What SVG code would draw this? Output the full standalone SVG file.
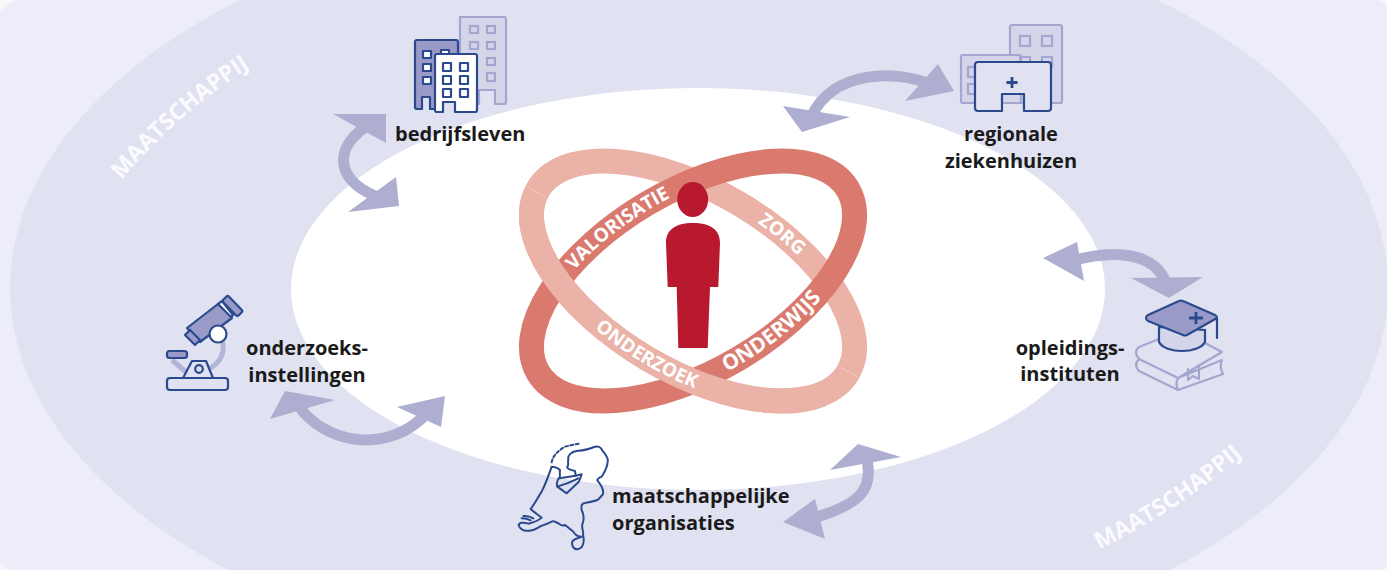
<svg xmlns="http://www.w3.org/2000/svg" width="1387" height="570" viewBox="0 0 1387 570">
<style>
.lbl{font-family:"Open Sans","Noto Sans","Liberation Sans",sans-serif;font-weight:700;font-size:20px;fill:#1a1a1a}
.ring{font-family:"Open Sans","Noto Sans","Liberation Sans",sans-serif;font-weight:700;font-size:19px;fill:#fff}
.soc{font-family:"Open Sans","Noto Sans","Liberation Sans",sans-serif;font-weight:700;font-size:23px;fill:#fbfbff}
.arr{fill:none;stroke:#aeaed0;stroke-width:11}
.head{fill:#aeaed0}
.back{fill:#d5d5ea;stroke:#a3a6cf;stroke-width:2.2;stroke-linejoin:round}
.winb{fill:none;stroke:#a3a6cf;stroke-width:2.2}
.dk{fill:#9a9ac8;stroke:#2b4a8d;stroke-width:2.2;stroke-linejoin:round}
.wh{fill:#fff;stroke:#2b4a8d;stroke-width:2.2;stroke-linejoin:round}
.no{fill:#e0e1f1;stroke:#2b4a8d;stroke-width:2.2;stroke-linejoin:round}
.li{fill:none;stroke:#2b4a8d;stroke-width:2.2;stroke-linejoin:round;stroke-linecap:round}
.lb{fill:none;stroke:#a3a6cf;stroke-width:2.2;stroke-linejoin:round;stroke-linecap:round}
</style>
<defs>
<clipPath id="front"><polygon points="560,140 840,420 500,420 500,140"/></clipPath>
<path id="pVal" d="M-174 0A174 84 0 0 1 174 0"/>
<path id="pZorg" d="M-174 0A174 84 0 0 1 174 0"/>
<path id="pOz" d="M-186 0A186 96 0 0 0 186 0"/>
<path id="pOw" d="M-186 0A186 96 0 0 0 186 0"/>
<path id="pS1" d="M120 182Q175 115 252 66"/>
<path id="pS2" d="M1100 549Q1180 510 1247 451"/>
</defs>
<g id="background">
<rect width="1387" height="570" fill="#edecf9"/>
<path d="M0 0H16Q7 5 0 11ZM0 563Q4 567 9 570H0ZM1387 0V5Q1383 2 1379 0ZM1387 566V570H1381Z" fill="#f8f8fb"/>
<ellipse cx="699" cy="288" rx="689" ry="386" fill="#e0e1f1"/>
<ellipse cx="698" cy="289" rx="407" ry="201" fill="#fff"/>
<text class="soc"><textPath href="#pS1" startOffset="50%" text-anchor="middle">MAATSCHAPPIJ</textPath></text>
<text class="soc"><textPath href="#pS2" startOffset="48%" text-anchor="middle">MAATSCHAPPIJ</textPath></text>
</g>
<g id="rings">
<ellipse cx="693" cy="281" rx="180" ry="90" transform="rotate(30.6 693 281)" fill="none" stroke="#ebb3a7" stroke-width="25"/>
<ellipse cx="693" cy="281" rx="180" ry="90" transform="rotate(-30.6 693 281)" fill="none" stroke="#da7a6f" stroke-width="25"/>
<g clip-path="url(#front)"><ellipse cx="693" cy="281" rx="180" ry="90" transform="rotate(30.6 693 281)" fill="none" stroke="#ebb3a7" stroke-width="25"/></g>
<path d="M528 187L545 197M840 367L858 377" stroke="#f7dcd6" stroke-width=".6" fill="none"/>
<g transform="translate(693 281) rotate(-30.6)">
<text class="ring"><textPath href="#pVal" startOffset="41%" text-anchor="middle">VALORISATIE</textPath></text>
<text class="ring" style="font-size:21px"><textPath href="#pOw" startOffset="59.500%" text-anchor="middle">ONDERWIJS</textPath></text>
</g>
<g transform="translate(693 281) rotate(30.6)">
<text class="ring"><textPath href="#pZorg" startOffset="62.5%" text-anchor="middle">ZORG</textPath></text>
<text class="ring"><textPath href="#pOz" startOffset="49.500%" text-anchor="middle">ONDERZOEK</textPath></text>
</g>
</g>
<g id="person" fill="#b9192f">
<ellipse cx="692.7" cy="199.5" rx="15.5" ry="17.5"/>
<path d="M666 243C666 230 675 223 693 223C711 223 720 230 720 243L718.3 287H710L707.7 348H678.3L676.7 287H667.7Z"/>
</g>
<g id="connectors">
<path class="arr" d="M364 128C336 148 334 178 375 196"/>
<polygon class="head" points="333,114 386,114 386,143"/>
<polygon class="head" points="396,177 399,206 348,212"/>
<path class="arr" d="M930 84C895 70 835 70 812 115"/>
<polygon class="head" points="938,64 954,91 905,101"/>
<polygon class="head" points="783,106 850,117 802,132"/>
<path class="arr" d="M1072 261C1110 250 1155 250 1167 285"/>
<polygon class="head" points="1043,258 1077,242 1084,281"/>
<polygon class="head" points="1131,278 1203,277 1169,298"/>
<path class="arr" d="M298 405C325 445 390 455 428 412"/>
<polygon class="head" points="285,391 335,400 270,419"/>
<polygon class="head" points="445,396 441,427 397,407"/>
<path class="arr" d="M866 455C875 490 860 505 810 519"/>
<polygon class="head" points="858,444 901,457 830,470"/>
<polygon class="head" points="815,499 825,539 783,522"/>
</g>
<g id="bedrijfsleven">
<path class="back" d="M460 17H504Q506 17 506 19V102Q506 104 504 104H495V90H479V104H460Z"/>
<g class="winb"><rect x="470" y="26" width="8" height="7"/><rect x="487" y="26" width="8" height="7"/><rect x="470" y="42" width="8" height="7"/><rect x="487" y="42" width="8" height="7"/><rect x="487" y="58" width="8" height="7"/><rect x="487" y="73" width="8" height="8"/></g>
<path class="dk" d="M417 40H456Q458 40 458 42V109H430V97H422V109H417Q415 109 415 107V42Q415 40 417 40Z"/>
<g class="wh"><rect x="423" y="51" width="8" height="7"/><rect x="423" y="64" width="8" height="7"/><rect x="423" y="77" width="8" height="7"/><rect x="441" y="50" width="8" height="6"/></g>
<rect x="442" y="101" width="14" height="12" fill="#e0e1f1"/>
<path class="wh" d="M437 54H475Q477 54 477 56V110Q477 112 475 112H455V102H443V112H437Q435 112 435 110V56Q435 54 437 54Z"/>
<g class="wh"><rect x="443" y="63" width="8" height="8"/><rect x="460" y="63" width="8" height="8"/><rect x="443" y="76" width="8" height="8"/><rect x="460" y="76" width="8" height="8"/><rect x="443" y="89" width="8" height="8"/><rect x="460" y="89" width="8" height="8"/></g>
<text class="lbl" x="395" y="141">bedrijfsleven</text>
</g>
<g id="ziekenhuizen">
<rect class="back" x="1010" y="25" width="52" height="78" rx="2"/>
<rect class="back" x="961" y="55" width="60" height="48" rx="2"/>
<g class="winb"><rect x="1020" y="36" width="10" height="10"/><rect x="1042" y="36" width="10" height="10"/><rect x="1020" y="57" width="10" height="10"/><rect x="1042" y="57" width="10" height="10"/><rect x="968" y="67" width="7" height="10"/><rect x="968" y="84" width="7" height="10"/></g>
<path class="no" d="M978 62H1048Q1051 62 1051 65V108Q1051 111 1048 111H1024V94H1002V111H978Q975 111 975 108V65Q975 62 978 62Z"/>
<path d="M1012 77V88M1006.500 82.500H1017.500" fill="none" stroke="#2b4a8d" stroke-width="2.8"/>
<text class="lbl" x="1011" y="141" text-anchor="middle">regionale</text>
<text class="lbl" x="1011" y="168" text-anchor="middle">ziekenhuizen</text>
</g>
<g id="opleidingsinstituten">
<path class="lb" d="M1159 339L1139 347Q1133 352 1139 359L1178 378L1222 352L1205 343M1139 359Q1133 365 1139 371L1178 390L1223 374Q1219 367 1222 360L1178 378Q1175 384 1178 390"/>
<path class="lb" d="M1188 369V380L1193 376L1199 379V365"/>
<path d="M1159 327V342C1165 354 1199 354 1205 342V330Z" fill="#d5d5ea" stroke="#2b4a8d" stroke-width="2.2"/>
<path class="dk" d="M1146 318Q1146 316 1148 315L1179 301Q1181 300 1183 301L1215 315Q1217 316 1217 318L1187 335Q1185 336 1183 335L1148 321Q1146 320 1146 318Z"/>
<path class="li" d="M1217 318V338"/>
<path d="M1196 312V324M1189 318H1203" fill="none" stroke="#2b4a8d" stroke-width="2.8"/>
<text class="lbl" x="1070" y="355" text-anchor="middle">opleidings-</text>
<text class="lbl" x="1070" y="381" text-anchor="middle">instituten</text>
</g>
<g id="onderzoeksinstellingen">
<path d="M222 340C226 352 220 364 208 369" fill="none" stroke="#a3a6cf" stroke-width="5" stroke-opacity=".75"/>
<path d="M172 360L186 372" fill="none" stroke="#a3a6cf" stroke-width="5" stroke-opacity=".75"/>
<rect class="no" x="167" y="378" width="61" height="12" rx="3"/>
<path class="no" d="M183 378L192 361H206L213 378Z"/>
<circle class="no" cx="199" cy="369" r="3.8"/>
<rect class="dk" x="167" y="351" width="20" height="7" rx="2.5"/>
<polygon class="wh" points="222,301 233,315 230,318 218,304"/>
<rect class="dk" x="-4" y="-11" width="8" height="22" rx="2" transform="translate(232.500 306) rotate(-44)"/>
<path class="dk" d="M187 328L218 304L232 318L200 342Z"/>
<path class="dk" d="M185 335L190 330L200 340L195 345Z"/>
<circle class="wh" cx="218" cy="334" r="8.5"/>
<text class="lbl" x="307" y="355" text-anchor="middle">onderzoeks-</text>
<text class="lbl" x="307" y="382" text-anchor="middle">instellingen</text>
</g>
<g id="maatschappelijke">
<g transform="translate(510 435) scale(.3333)" fill="none" stroke="#2b4a8d" stroke-width="6" stroke-linejoin="round" stroke-linecap="round">
<path d="M175 75C172 60 185 50 200 48C220 46 240 42 252 36C265 33 272 34 278 48C286 58 296 68 293 80C292 100 283 112 275 125C268 128 262 132 262 136C272 148 282 165 279 178C272 185 268 192 262 195C250 200 235 202 225 204C215 205 213 212 215 225C222 238 222 255 217 268C214 280 222 290 219 300C225 320 218 340 205 342C190 345 183 330 188 318C195 310 205 310 215 305C205 305 195 300 190 290C180 282 172 275 165 270C155 275 150 268 145 265C135 262 132 255 125 260C115 265 105 270 95 272C82 278 72 288 55 287C40 290 28 280 26 270C28 262 40 262 55 266C72 262 85 258 95 248C85 240 70 230 62 222C75 205 85 185 95 170C105 150 115 125 125 95C135 95 145 100 150 105C148 115 152 125 148 128C140 135 140 150 142 155L170 175L205 142C210 135 213 125 215 118L197 122L195 108C180 105 170 100 172 95C178 90 172 80 175 75Z"/>
<path d="M148 130L197 122M142 155C160 150 185 140 205 130"/>
<path d="M125 82C128 65 140 50 165 35C175 32 195 28 210 26" stroke-dasharray="9 7"/>
<path d="M40 243C50 242 62 245 70 250M35 250C45 250 55 252 62 256"/>
</g>
<text class="lbl" x="612" y="503">maatschappelijke</text>
<text class="lbl" x="612" y="530">organisaties</text>
</g>
</svg>
